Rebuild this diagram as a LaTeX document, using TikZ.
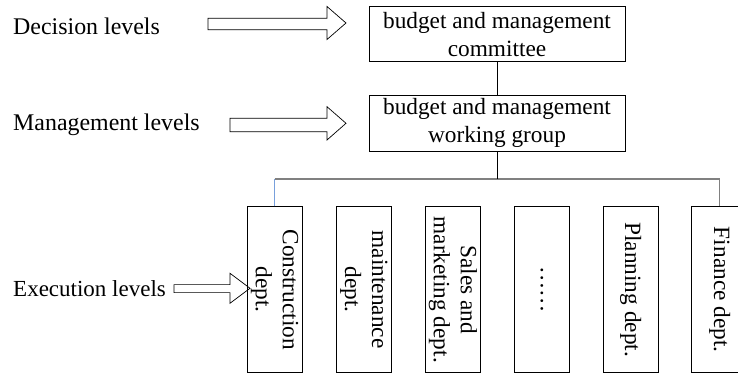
\documentclass[tikz,border=0pt]{standalone}
\usepackage{fontspec}
\setmainfont{Liberation Serif}
\begin{document}
\begin{tikzpicture}[x=1pt,y=-1pt,
  lbl/.style={font=\fontsize{23.9}{28}\selectfont, inner sep=0pt},
  topbox/.style={draw=black, line width=0.8pt, minimum width=256pt, minimum height=55pt, align=center, font=\fontsize{23.3}{28.3}\selectfont, inner sep=0pt},
  deptbox/.style={draw=black, line width=0.8pt, minimum width=55.5pt, minimum height=166pt, inner sep=0pt},
  depttext/.style={rotate=-90, align=center, font=\fontsize{23.3}{27}\selectfont, inner sep=0pt},
  bus/.style={draw=gray, line width=1.2pt},
  blueline/.style={draw={rgb,255:red,120;green,160;blue,220}, line width=1.2pt},
  link/.style={draw=black, line width=0.8pt},
  blockarrow/.style={draw=black, line width=0.7pt, fill=white, line join=miter}
]
\clip (0,0) rectangle (738,374);
% top boxes
\node[topbox] (c) at (497,34.2) {budget and management\\committee};
\node[topbox, minimum height=56pt] (w) at (497,123) {budget and management\\working group};
% block arrows
\draw[blockarrow] (208,18.3) -- (327,18.3) -- (327,6.5) -- (346,23) -- (327,39.5) -- (327,29.7) -- (208,29.7) -- cycle;
\draw[blockarrow] (230,118.3) -- (327,118.3) -- (327,106.7) -- (346,123.3) -- (327,140) -- (327,131.7) -- (230,131.7) -- cycle;
\draw[blockarrow] (174,284.6) -- (230,284.6) -- (230,273.3) -- (250,288.3) -- (230,303.3) -- (230,292.6) -- (174,292.6) -- cycle;
% level labels
\node[lbl, anchor=base west] (dl) at (13,35) {Decision levels};
\node[lbl, anchor=base west] (ml) at (13,131) {Management levels};
\node[lbl, anchor=base west, font=\fontsize{23}{28}\selectfont] (el) at (13,296.5) {Execution levels};
% department boxes
\foreach \n/\x in {d1/274.7, d2/363.9, d3/453, d4/541.8, d5/630.7, d6/719.6}
  \node[deptbox] (\n) at (\x,289.7) {};
\node[depttext] (t1) at (d1.center) {Construction\\dept.};
\node[depttext] (t2) at (d2.center) {maintenance\\dept.};
\node[depttext] (t3) at (d3.center) {Sales and\\marketing dept.};
\node[depttext] (t4) at (d4.center) {……};
\node[depttext] (t5) at (d5.center) {Planning dept.};
\node[depttext] (t6) at (d6.center) {Finance dept.};
% connectors
\coordinate (bl) at (274.7,179);
\coordinate (br) at (719.6,179);
\draw[link] (c.south) -- (w.north);
\draw[blueline] (d1.north) -- (bl);
\draw[bus] (bl) -- (br) -- (d6.north);
\draw[link] (w.south) -- (w.south |- bl);
\end{tikzpicture}
\end{document}
